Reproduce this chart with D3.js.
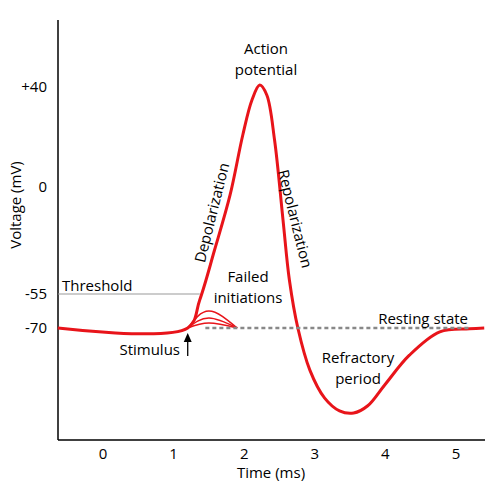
<!DOCTYPE html><html><head><meta charset="utf-8">
<script src="https://cdn.jsdelivr.net/npm/d3@7"></script>
<style>body{margin:0;background:#fff}text{font-family:"Open Sans",sans-serif;font-size:15px;fill:#000}</style>
</head><body><svg id="c" width="500" height="494"></svg>
<script>
const xTicks=[0,1,2,3,4,5];
const yTicks=[{v:40,l:"+40"},{v:0,l:"0"},{v:-55,l:"-55"},{v:-70,l:"-70"}];
const apTime=[-0.64,1.20,1.37,1.58,1.80,1.98,2.11,2.22,2.32,2.43,2.55,2.64,2.76,2.93,3.14,3.35,3.55,3.75,3.99,4.34,4.77,5.19,5.40];
const apVolt=[-70,-70,-57.6,-32.4,-4.1,20.8,34.8,40.8,36.8,18.8,-17,-47.8,-70,-79.9,-86.5,-89.5,-90,-88.3,-83.4,-76.4,-70.9,-70.2,-70];
const failTime=[1.2,1.5,1.9];
const failPeaks=[-62.5,-65.6,-67.8];
const thresholdV=-55, restV=-70;

const svg=d3.select("#c");
const x=d3.scaleLinear().domain([0,5]).range([103,456]);
const y=d3.scaleLinear().domain([-100,-90,-70,-55,0,40]).range([440,413,328,294,187,87]);
const x0=x.invert(58);

svg.append("line").attr("x1",58).attr("x2",58).attr("y1",20).attr("y2",440).attr("stroke","#000").attr("stroke-width",1.5);
svg.append("line").attr("x1",58).attr("x2",485).attr("y1",440).attr("y2",440).attr("stroke","#000").attr("stroke-width",1.5);
xTicks.forEach(t=>svg.append("text").attr("x",x(t)).attr("y",459).attr("text-anchor","middle").text(t));
yTicks.forEach(t=>svg.append("text").attr("x",47).attr("y",y(t.v)+5).attr("text-anchor","end").text(t.l));
svg.append("text").attr("x",271).attr("y",478).attr("text-anchor","middle").text("Time (ms)");
svg.append("text").attr("transform","translate(21,205) rotate(-90)").attr("text-anchor","middle").text("Voltage (mV)");

svg.append("line").attr("x1",x(x0)).attr("x2",x(1.37)).attr("y1",y(thresholdV)).attr("y2",y(thresholdV)).attr("stroke","#999").attr("stroke-width",1.2);

const line=d3.line().x(d=>x(d[0])).y(d=>y(d[1])).curve(d3.curveCatmullRom.alpha(0.5));
failPeaks.forEach(p=>{
  svg.append("path").attr("d",d3.line().x(d=>x(d[0])).y(d=>y(d[1])).curve(d3.curveNatural)([[failTime[0],restV],[failTime[1],p],[failTime[2],restV]]))
   .attr("fill","none").attr("stroke","#e8141a").attr("stroke-width",1.6);
});
svg.append("path").attr("d",line(apTime.map((t,i)=>[t,apVolt[i]]))).attr("fill","none").attr("stroke","#e8141a").attr("stroke-width",3);
svg.append("line").attr("x1",x(1.45)).attr("x2",x(5.2)).attr("y1",y(restV)).attr("y2",y(restV)).attr("stroke","#888").attr("stroke-width",2.5).attr("stroke-dasharray","4,3");

svg.append("line").attr("x1",x(1.2)).attr("x2",x(1.2)).attr("y1",356).attr("y2",340).attr("stroke","#000").attr("stroke-width",1.3);
svg.append("path").attr("d",`M${x(1.2)-4},342L${x(1.2)},333L${x(1.2)+4},342Z`).attr("fill","#000");

const txt=(s,xx,yy,a="middle")=>svg.append("text").attr("x",xx).attr("y",yy).attr("text-anchor",a).text(s);
txt("Threshold",62,291,"start");
txt("Resting state",468,324,"end");
txt("Stimulus",180,355,"end");
txt("Action",266,54);txt("potential",266,75);
txt("Failed",248,282);txt("initiations",248,303);
txt("Refractory",358,363);txt("period",358,384);
svg.append("text").attr("transform","translate(217,214) rotate(-76)").attr("text-anchor","middle").text("Depolarization");
svg.append("text").attr("transform","translate(290,220) rotate(76)").attr("text-anchor","middle").text("Repolarization");
</script></body></html>
